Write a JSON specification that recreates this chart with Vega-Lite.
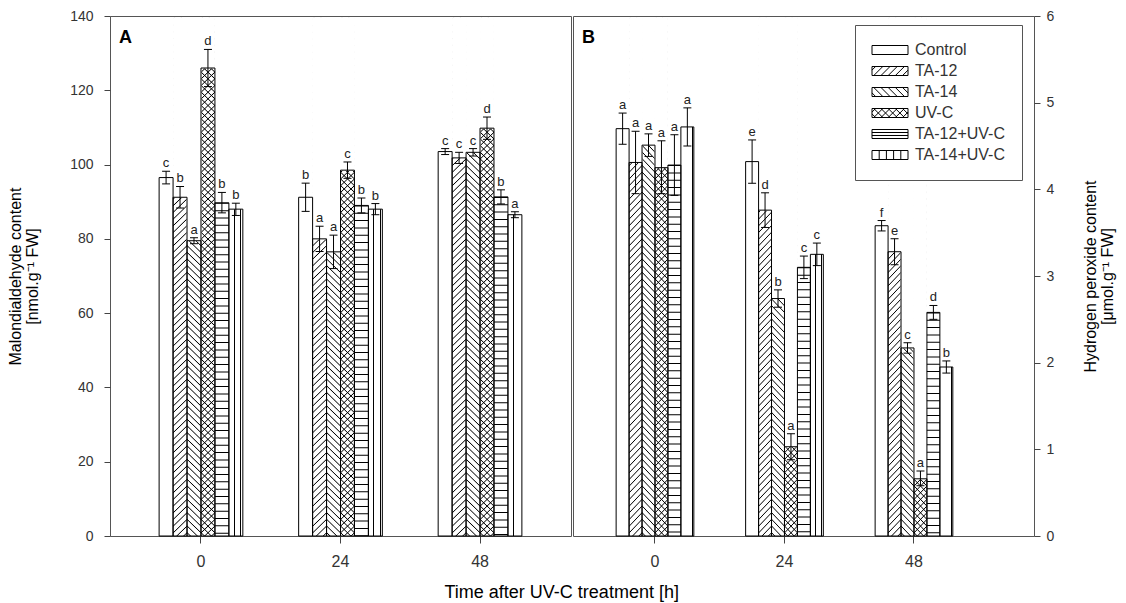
{
"$schema": "https://vega.github.io/schema/vega-lite/v6.json",
"background": "#ffffff",
"padding": {"left": 7, "top": 8, "right": 5, "bottom": 5},
"datasets": {
"mda": [
{"time":"0","trt":"Control","mean":96.5,"lo":94.8,"hi":98.2,"lab":"c"},
{"time":"0","trt":"TA-12","mean":91.2,"lo":88.3,"hi":94.1,"lab":"b"},
{"time":"0","trt":"TA-14","mean":79.5,"lo":78.7,"hi":80.3,"lab":"a"},
{"time":"0","trt":"UV-C","mean":126,"lo":121,"hi":131,"lab":"d"},
{"time":"0","trt":"TA-12+UV-C","mean":89.7,"lo":87,"hi":92.5,"lab":"b"},
{"time":"0","trt":"TA-14+UV-C","mean":88,"lo":86.3,"hi":89.6,"lab":"b"},
{"time":"24","trt":"Control","mean":91.2,"lo":87.4,"hi":95,"lab":"b"},
{"time":"24","trt":"TA-12","mean":80,"lo":76.6,"hi":83.4,"lab":"a"},
{"time":"24","trt":"TA-14","mean":76.5,"lo":72,"hi":81,"lab":"a"},
{"time":"24","trt":"UV-C","mean":98.5,"lo":96.3,"hi":100.7,"lab":"c"},
{"time":"24","trt":"TA-12+UV-C","mean":89,"lo":87,"hi":91,"lab":"b"},
{"time":"24","trt":"TA-14+UV-C","mean":88,"lo":86.5,"hi":89.5,"lab":"b"},
{"time":"48","trt":"Control","mean":103.5,"lo":102.7,"hi":104.3,"lab":"c"},
{"time":"48","trt":"TA-12","mean":101.8,"lo":100.3,"hi":103.3,"lab":"c"},
{"time":"48","trt":"TA-14","mean":103.3,"lo":102.3,"hi":104.3,"lab":"c"},
{"time":"48","trt":"UV-C","mean":109.8,"lo":106.8,"hi":112.8,"lab":"d"},
{"time":"48","trt":"TA-12+UV-C","mean":91.3,"lo":89.4,"hi":93.2,"lab":"b"},
{"time":"48","trt":"TA-14+UV-C","mean":86.5,"lo":85.7,"hi":87.3,"lab":"a"}
],
"h2o2": [
{"time":"0","trt":"Control","mean":4.70,"lo":4.52,"hi":4.88,"lab":"a"},
{"time":"0","trt":"TA-12","mean":4.31,"lo":3.95,"hi":4.67,"lab":"a"},
{"time":"0","trt":"TA-14","mean":4.51,"lo":4.38,"hi":4.64,"lab":"a"},
{"time":"0","trt":"UV-C","mean":4.25,"lo":3.95,"hi":4.56,"lab":"a"},
{"time":"0","trt":"TA-12+UV-C","mean":4.28,"lo":3.93,"hi":4.63,"lab":"a"},
{"time":"0","trt":"TA-14+UV-C","mean":4.72,"lo":4.50,"hi":4.94,"lab":"a"},
{"time":"24","trt":"Control","mean":4.32,"lo":4.07,"hi":4.57,"lab":"e"},
{"time":"24","trt":"TA-12","mean":3.76,"lo":3.56,"hi":3.96,"lab":"d"},
{"time":"24","trt":"TA-14","mean":2.74,"lo":2.64,"hi":2.84,"lab":"b"},
{"time":"24","trt":"UV-C","mean":1.03,"lo":0.88,"hi":1.18,"lab":"a"},
{"time":"24","trt":"TA-12+UV-C","mean":3.10,"lo":2.97,"hi":3.23,"lab":"c"},
{"time":"24","trt":"TA-14+UV-C","mean":3.25,"lo":3.12,"hi":3.38,"lab":"c"},
{"time":"48","trt":"Control","mean":3.58,"lo":3.52,"hi":3.64,"lab":"f"},
{"time":"48","trt":"TA-12","mean":3.28,"lo":3.13,"hi":3.43,"lab":"e"},
{"time":"48","trt":"TA-14","mean":2.17,"lo":2.11,"hi":2.23,"lab":"c"},
{"time":"48","trt":"UV-C","mean":0.66,"lo":0.58,"hi":0.75,"lab":"a"},
{"time":"48","trt":"TA-12+UV-C","mean":2.58,"lo":2.50,"hi":2.66,"lab":"d"},
{"time":"48","trt":"TA-14+UV-C","mean":1.95,"lo":1.88,"hi":2.02,"lab":"b"}
]
},
"title": {"text": "Time after UV-C treatment [h]", "orient": "bottom", "anchor": "middle", "fontSize": 18, "fontWeight": "normal", "color": "#000", "offset": 14},
"spacing": 0,
"resolve": {"scale": {"x": "independent", "y": "independent", "xOffset": "independent", "stroke": "independent", "shape": "independent"}},
"hconcat": [
{
"width": 461, "height": 520,
"data": {"name": "mda"},
"title": {"text": "A", "anchor": "start", "frame": "group", "fontSize": 18, "fontWeight": "bold", "color": "#000", "baseline": "top", "offset": 0, "dx": 9, "dy": 38},
"encoding": {
"x": {"field": "time", "type": "nominal", "sort": ["0","24","48"], "scale": {"paddingInner": 0.4, "paddingOuter": 0.352}, "axis": {"title": null, "labelAngle": 0, "tickSize": 7, "labelPadding": 10, "labelFontSize": 16}},
"xOffset": {"field": "trt", "type": "nominal", "sort": ["Control","TA-12","TA-14","UV-C","TA-12+UV-C","TA-14+UV-C"], "scale": {"paddingInner": 0, "paddingOuter": 0}}
},
"layer": [
{"transform": [{"filter": {"field": "trt", "oneOf": ["TA-12","UV-C"]}}], "mark": {"type": "bar", "style": "hatchF"}, "encoding": {"y": {"datum": 0, "type": "quantitative"}, "y2": {"datum": 139.5}}},
{"transform": [{"filter": {"field": "trt", "oneOf": ["TA-14","UV-C"]}}], "mark": {"type": "bar", "style": "hatchB"}, "encoding": {"y": {"datum": 0, "type": "quantitative"}, "y2": {"datum": 139.5}}},
{"transform": [{"filter": {"field": "trt", "oneOf": ["TA-12","TA-14","UV-C"]}}], "mark": {"type": "bar", "fill": "#ffffff", "stroke": "#ffffff", "strokeWidth": 1}, "encoding": {"y": {"field": "mean", "type": "quantitative"}, "y2": {"datum": 139.5}}},
{"transform": [{"filter": {"field": "trt", "equal": "TA-12+UV-C"}}], "mark": {"type": "rule", "strokeWidth": 14, "strokeDash": [1, 6.33], "strokeCap": "butt", "color": "#000"}, "encoding": {"y": {"field": "mean", "type": "quantitative"}, "y2": {"datum": 0}}},
{"transform": [{"filter": {"field": "trt", "equal": "TA-14+UV-C"}}], "mark": {"type": "bar", "style": "hatchV"}, "encoding": {"y": {"field": "mean", "type": "quantitative", "stack": null}}},
{"mark": {"type": "bar", "fill": "transparent", "stroke": "#000", "strokeWidth": 1}, "encoding": {"y": {"field": "mean", "type": "quantitative", "stack": null, "scale": {"domain": [0, 140], "nice": false}, "axis": {"orient": "left", "values": [0,20,40,60,80,100,120,140], "format": "d", "tickSize": 6, "labelPadding": 11, "title": ["Malondialdehyde content", "[nmol.g⁻¹ FW]"], "titlePadding": 29, "titleLineHeight": 17, "titleFontSize": 16}}}},
{"mark": {"type": "rule", "color": "#000", "strokeWidth": 1}, "encoding": {"y": {"field": "lo", "type": "quantitative"}, "y2": {"field": "hi"}}},
{"mark": {"type": "tick", "size": 8, "thickness": 1, "color": "#000", "opacity": 1}, "encoding": {"y": {"field": "lo", "type": "quantitative"}}},
{"mark": {"type": "tick", "size": 8, "thickness": 1, "color": "#000", "opacity": 1}, "encoding": {"y": {"field": "hi", "type": "quantitative"}}},
{"mark": {"type": "text", "dy": -4, "baseline": "alphabetic", "fontSize": 13, "color": "#222"}, "encoding": {"y": {"field": "hi", "type": "quantitative"}, "text": {"field": "lab", "type": "nominal"}}}
]
},
{
"width": 461, "height": 520,
"data": {"name": "h2o2"},
"title": {"text": "B", "anchor": "start", "frame": "group", "fontSize": 18, "fontWeight": "bold", "color": "#000", "baseline": "top", "offset": 0, "dx": 9, "dy": 38},
"encoding": {
"x": {"field": "time", "type": "nominal", "sort": ["0","24","48"], "scale": {"paddingInner": 0.4, "paddingOuter": 0.48, "align": 0.347}, "axis": {"title": null, "labelAngle": 0, "tickSize": 7, "labelPadding": 10, "labelFontSize": 16}},
"xOffset": {"field": "trt", "type": "nominal", "sort": ["Control","TA-12","TA-14","UV-C","TA-12+UV-C","TA-14+UV-C"], "scale": {"paddingInner": 0, "paddingOuter": 0}}
},
"layer": [
{"transform": [{"filter": {"field": "trt", "oneOf": ["TA-12","UV-C"]}}], "mark": {"type": "bar", "style": "hatchF"}, "encoding": {"y": {"datum": 0, "type": "quantitative"}, "y2": {"datum": 5.98}}},
{"transform": [{"filter": {"field": "trt", "oneOf": ["TA-14","UV-C"]}}], "mark": {"type": "bar", "style": "hatchB"}, "encoding": {"y": {"datum": 0, "type": "quantitative"}, "y2": {"datum": 5.98}}},
{"transform": [{"filter": {"field": "trt", "oneOf": ["TA-12","TA-14","UV-C"]}}], "mark": {"type": "bar", "fill": "#ffffff", "stroke": "#ffffff", "strokeWidth": 1}, "encoding": {"y": {"field": "mean", "type": "quantitative"}, "y2": {"datum": 5.98}}},
{"transform": [{"filter": {"field": "trt", "equal": "TA-12+UV-C"}}], "mark": {"type": "rule", "strokeWidth": 13, "strokeDash": [1, 6.33], "strokeCap": "butt", "color": "#000"}, "encoding": {"y": {"field": "mean", "type": "quantitative"}, "y2": {"datum": 0}}},
{"transform": [{"filter": {"field": "trt", "equal": "TA-14+UV-C"}}], "mark": {"type": "bar", "style": "hatchV"}, "encoding": {"y": {"field": "mean", "type": "quantitative", "stack": null}}},
{"mark": {"type": "bar", "fill": "transparent", "stroke": "#000", "strokeWidth": 1}, "encoding": {"y": {"field": "mean", "type": "quantitative", "stack": null, "scale": {"domain": [0, 6], "nice": false}, "axis": {"orient": "right", "values": [0,1,2,3,4,5,6], "format": "d", "tickSize": 6, "labelPadding": 6, "title": ["Hydrogen peroxide content", "[μmol.g⁻¹ FW]"], "titleAngle": 270, "titleBaseline": "top", "titlePadding": 12, "titleLineHeight": 17, "titleFontSize": 16}},
"stroke": {"field": "trt", "type": "nominal", "scale": {"domain": ["Control","TA-12","TA-14","UV-C","TA-12+UV-C","TA-14+UV-C"], "range": ["#000","#000","#000","#000","#000","#000"]},
"legend": {"title": null, "orient": "none", "legendX": 282, "legendY": 9, "padding": 17, "strokeColor": "#555", "fillColor": "#ffffff", "labelFontSize": 16, "labelColor": "#333", "labelFont": "Liberation Sans", "symbolType": "M-4,-1H4V1H-4Z", "symbolSize": 81, "symbolOffset": 10, "labelOffset": 17, "rowPadding": 5, "symbolStrokeWidth": 1, "symbolFillColor": "#ffffff", "symbolOpacity": 1}}}},
{"transform": [{"filter": "false"}], "mark": {"type": "point", "filled": true, "fill": "#ffffff", "stroke": "#000", "strokeWidth": 1}, "encoding": {"y": {"field": "mean", "type": "quantitative"},
"shape": {"field": "trt", "type": "nominal", "scale": {"domain": ["Control","TA-12","TA-14","UV-C","TA-12+UV-C","TA-14+UV-C"], "range": [
"M-4,-1H4V1H-4Z",
"M-4,-1H4V1H-4Z M-4,-0.2L-3.2,-1 M-3.6,1L-1.6,-1 M-2,1L0,-1 M-0.4,1L1.6,-1 M1.2,1L3.2,-1 M2.8,1L4,-0.2",
"M-4,-1H4V1H-4Z M-4,0.2L-3.2,1 M-3.6,-1L-1.6,1 M-2,-1L0,1 M-0.4,-1L1.6,1 M1.2,-1L3.2,1 M2.8,-1L4,0.2",
"M-4,-1H4V1H-4Z M-4,-0.2L-3.2,-1 M-3.6,1L-1.6,-1 M-2,1L0,-1 M-0.4,1L1.6,-1 M1.2,1L3.2,-1 M2.8,1L4,-0.2 M-4,0.2L-3.2,1 M-3.6,-1L-1.6,1 M-2,-1L0,1 M-0.4,-1L1.6,1 M1.2,-1L3.2,1 M2.8,-1L4,0.2",
"M-4,-1H4V1H-4Z M-4,-0.33H4 M-4,0.33H4",
"M-4,-1H4V1H-4Z M-2.4,-1V1 M-0.8,-1V1 M0.8,-1V1 M2.4,-1V1"
]},
"legend": {"title": null, "orient": "none", "legendX": 282, "legendY": 9, "padding": 17, "strokeColor": "#555", "fillColor": "#ffffff", "labelFontSize": 16, "labelColor": "#333", "labelFont": "Liberation Sans", "symbolSize": 81, "symbolOffset": 10, "labelOffset": 17, "rowPadding": 5, "symbolStrokeWidth": 1, "symbolFillColor": "#ffffff", "symbolOpacity": 1}}}},
{"mark": {"type": "rule", "color": "#000", "strokeWidth": 1}, "encoding": {"y": {"field": "lo", "type": "quantitative"}, "y2": {"field": "hi"}}},
{"mark": {"type": "tick", "size": 8, "thickness": 1, "color": "#000", "opacity": 1}, "encoding": {"y": {"field": "lo", "type": "quantitative"}}},
{"mark": {"type": "tick", "size": 8, "thickness": 1, "color": "#000", "opacity": 1}, "encoding": {"y": {"field": "hi", "type": "quantitative"}}},
{"mark": {"type": "text", "dy": -4, "baseline": "alphabetic", "fontSize": 13, "color": "#222"}, "encoding": {"y": {"field": "hi", "type": "quantitative"}, "text": {"field": "lab", "type": "nominal"}}}
]
}
],
"config": {
"font": "Liberation Sans",
"view": {"stroke": "#555", "strokeWidth": 1},
"axis": {"domain": false, "grid": false, "tickColor": "#444", "labelColor": "#333", "labelFontSize": 14, "titleFontWeight": "normal", "titleColor": "#000", "labelFont": "Liberation Sans", "titleFont": "Liberation Sans"},
"style": {
"hatchV": {"color": {"gradient": "linear", "x1": 0, "y1": 0, "x2": 1, "y2": 0, "stops": [{"offset":0,"color":"transparent"},{"offset":0.36,"color":"transparent"},{"offset":0.36,"color":"#000"},{"offset":0.43,"color":"#000"},{"offset":0.43,"color":"transparent"},{"offset":0.83,"color":"transparent"},{"offset":0.83,"color":"#000"},{"offset":0.9,"color":"#000"},{"offset":0.9,"color":"transparent"},{"offset":1,"color":"transparent"}]}},
"hatchF": {"color": {"gradient": "linear", "x1": 0, "y1": 0, "x2": 0.027, "y2": 1.03, "stops": [
{"offset":0,"color":"transparent"},{"offset":0.002,"color":"#000"},{"offset":0.004,"color":"transparent"},
{"offset":0.0125,"color":"transparent"},{"offset":0.0145,"color":"#000"},{"offset":0.0165,"color":"transparent"},
{"offset":0.025,"color":"transparent"},{"offset":0.027,"color":"#000"},{"offset":0.029,"color":"transparent"},
{"offset":0.0375,"color":"transparent"},{"offset":0.0395,"color":"#000"},{"offset":0.0415,"color":"transparent"},
{"offset":0.05,"color":"transparent"},{"offset":0.052,"color":"#000"},{"offset":0.054,"color":"transparent"},
{"offset":0.0625,"color":"transparent"},{"offset":0.0645,"color":"#000"},{"offset":0.0665,"color":"transparent"},
{"offset":0.075,"color":"transparent"},{"offset":0.077,"color":"#000"},{"offset":0.079,"color":"transparent"},
{"offset":0.0875,"color":"transparent"},{"offset":0.0895,"color":"#000"},{"offset":0.0915,"color":"transparent"},
{"offset":0.1,"color":"transparent"},{"offset":0.102,"color":"#000"},{"offset":0.104,"color":"transparent"},
{"offset":0.1125,"color":"transparent"},{"offset":0.1145,"color":"#000"},{"offset":0.1165,"color":"transparent"},
{"offset":0.125,"color":"transparent"},{"offset":0.127,"color":"#000"},{"offset":0.129,"color":"transparent"},
{"offset":0.1375,"color":"transparent"},{"offset":0.1395,"color":"#000"},{"offset":0.1415,"color":"transparent"},
{"offset":0.15,"color":"transparent"},{"offset":0.152,"color":"#000"},{"offset":0.154,"color":"transparent"},
{"offset":0.1625,"color":"transparent"},{"offset":0.1645,"color":"#000"},{"offset":0.1665,"color":"transparent"},
{"offset":0.175,"color":"transparent"},{"offset":0.177,"color":"#000"},{"offset":0.179,"color":"transparent"},
{"offset":0.1875,"color":"transparent"},{"offset":0.1895,"color":"#000"},{"offset":0.1915,"color":"transparent"},
{"offset":0.2,"color":"transparent"},{"offset":0.202,"color":"#000"},{"offset":0.204,"color":"transparent"},
{"offset":0.2125,"color":"transparent"},{"offset":0.2145,"color":"#000"},{"offset":0.2165,"color":"transparent"},
{"offset":0.225,"color":"transparent"},{"offset":0.227,"color":"#000"},{"offset":0.229,"color":"transparent"},
{"offset":0.2375,"color":"transparent"},{"offset":0.2395,"color":"#000"},{"offset":0.2415,"color":"transparent"},
{"offset":0.25,"color":"transparent"},{"offset":0.252,"color":"#000"},{"offset":0.254,"color":"transparent"},
{"offset":0.2625,"color":"transparent"},{"offset":0.2645,"color":"#000"},{"offset":0.2665,"color":"transparent"},
{"offset":0.275,"color":"transparent"},{"offset":0.277,"color":"#000"},{"offset":0.279,"color":"transparent"},
{"offset":0.2875,"color":"transparent"},{"offset":0.2895,"color":"#000"},{"offset":0.2915,"color":"transparent"},
{"offset":0.3,"color":"transparent"},{"offset":0.302,"color":"#000"},{"offset":0.304,"color":"transparent"},
{"offset":0.3125,"color":"transparent"},{"offset":0.3145,"color":"#000"},{"offset":0.3165,"color":"transparent"},
{"offset":0.325,"color":"transparent"},{"offset":0.327,"color":"#000"},{"offset":0.329,"color":"transparent"},
{"offset":0.3375,"color":"transparent"},{"offset":0.3395,"color":"#000"},{"offset":0.3415,"color":"transparent"},
{"offset":0.35,"color":"transparent"},{"offset":0.352,"color":"#000"},{"offset":0.354,"color":"transparent"},
{"offset":0.3625,"color":"transparent"},{"offset":0.3645,"color":"#000"},{"offset":0.3665,"color":"transparent"},
{"offset":0.375,"color":"transparent"},{"offset":0.377,"color":"#000"},{"offset":0.379,"color":"transparent"},
{"offset":0.3875,"color":"transparent"},{"offset":0.3895,"color":"#000"},{"offset":0.3915,"color":"transparent"},
{"offset":0.4,"color":"transparent"},{"offset":0.402,"color":"#000"},{"offset":0.404,"color":"transparent"},
{"offset":0.4125,"color":"transparent"},{"offset":0.4145,"color":"#000"},{"offset":0.4165,"color":"transparent"},
{"offset":0.425,"color":"transparent"},{"offset":0.427,"color":"#000"},{"offset":0.429,"color":"transparent"},
{"offset":0.4375,"color":"transparent"},{"offset":0.4395,"color":"#000"},{"offset":0.4415,"color":"transparent"},
{"offset":0.45,"color":"transparent"},{"offset":0.452,"color":"#000"},{"offset":0.454,"color":"transparent"},
{"offset":0.4625,"color":"transparent"},{"offset":0.4645,"color":"#000"},{"offset":0.4665,"color":"transparent"},
{"offset":0.475,"color":"transparent"},{"offset":0.477,"color":"#000"},{"offset":0.479,"color":"transparent"},
{"offset":0.4875,"color":"transparent"},{"offset":0.4895,"color":"#000"},{"offset":0.4915,"color":"transparent"},
{"offset":0.5,"color":"transparent"},{"offset":0.502,"color":"#000"},{"offset":0.504,"color":"transparent"},
{"offset":0.5125,"color":"transparent"},{"offset":0.5145,"color":"#000"},{"offset":0.5165,"color":"transparent"},
{"offset":0.525,"color":"transparent"},{"offset":0.527,"color":"#000"},{"offset":0.529,"color":"transparent"},
{"offset":0.5375,"color":"transparent"},{"offset":0.5395,"color":"#000"},{"offset":0.5415,"color":"transparent"},
{"offset":0.55,"color":"transparent"},{"offset":0.552,"color":"#000"},{"offset":0.554,"color":"transparent"},
{"offset":0.5625,"color":"transparent"},{"offset":0.5645,"color":"#000"},{"offset":0.5665,"color":"transparent"},
{"offset":0.575,"color":"transparent"},{"offset":0.577,"color":"#000"},{"offset":0.579,"color":"transparent"},
{"offset":0.5875,"color":"transparent"},{"offset":0.5895,"color":"#000"},{"offset":0.5915,"color":"transparent"},
{"offset":0.6,"color":"transparent"},{"offset":0.602,"color":"#000"},{"offset":0.604,"color":"transparent"},
{"offset":0.6125,"color":"transparent"},{"offset":0.6145,"color":"#000"},{"offset":0.6165,"color":"transparent"},
{"offset":0.625,"color":"transparent"},{"offset":0.627,"color":"#000"},{"offset":0.629,"color":"transparent"},
{"offset":0.6375,"color":"transparent"},{"offset":0.6395,"color":"#000"},{"offset":0.6415,"color":"transparent"},
{"offset":0.65,"color":"transparent"},{"offset":0.652,"color":"#000"},{"offset":0.654,"color":"transparent"},
{"offset":0.6625,"color":"transparent"},{"offset":0.6645,"color":"#000"},{"offset":0.6665,"color":"transparent"},
{"offset":0.675,"color":"transparent"},{"offset":0.677,"color":"#000"},{"offset":0.679,"color":"transparent"},
{"offset":0.6875,"color":"transparent"},{"offset":0.6895,"color":"#000"},{"offset":0.6915,"color":"transparent"},
{"offset":0.7,"color":"transparent"},{"offset":0.702,"color":"#000"},{"offset":0.704,"color":"transparent"},
{"offset":0.7125,"color":"transparent"},{"offset":0.7145,"color":"#000"},{"offset":0.7165,"color":"transparent"},
{"offset":0.725,"color":"transparent"},{"offset":0.727,"color":"#000"},{"offset":0.729,"color":"transparent"},
{"offset":0.7375,"color":"transparent"},{"offset":0.7395,"color":"#000"},{"offset":0.7415,"color":"transparent"},
{"offset":0.75,"color":"transparent"},{"offset":0.752,"color":"#000"},{"offset":0.754,"color":"transparent"},
{"offset":0.7625,"color":"transparent"},{"offset":0.7645,"color":"#000"},{"offset":0.7665,"color":"transparent"},
{"offset":0.775,"color":"transparent"},{"offset":0.777,"color":"#000"},{"offset":0.779,"color":"transparent"},
{"offset":0.7875,"color":"transparent"},{"offset":0.7895,"color":"#000"},{"offset":0.7915,"color":"transparent"},
{"offset":0.8,"color":"transparent"},{"offset":0.802,"color":"#000"},{"offset":0.804,"color":"transparent"},
{"offset":0.8125,"color":"transparent"},{"offset":0.8145,"color":"#000"},{"offset":0.8165,"color":"transparent"},
{"offset":0.825,"color":"transparent"},{"offset":0.827,"color":"#000"},{"offset":0.829,"color":"transparent"},
{"offset":0.8375,"color":"transparent"},{"offset":0.8395,"color":"#000"},{"offset":0.8415,"color":"transparent"},
{"offset":0.85,"color":"transparent"},{"offset":0.852,"color":"#000"},{"offset":0.854,"color":"transparent"},
{"offset":0.8625,"color":"transparent"},{"offset":0.8645,"color":"#000"},{"offset":0.8665,"color":"transparent"},
{"offset":0.875,"color":"transparent"},{"offset":0.877,"color":"#000"},{"offset":0.879,"color":"transparent"},
{"offset":0.8875,"color":"transparent"},{"offset":0.8895,"color":"#000"},{"offset":0.8915,"color":"transparent"},
{"offset":0.9,"color":"transparent"},{"offset":0.902,"color":"#000"},{"offset":0.904,"color":"transparent"},
{"offset":0.9125,"color":"transparent"},{"offset":0.9145,"color":"#000"},{"offset":0.9165,"color":"transparent"},
{"offset":0.925,"color":"transparent"},{"offset":0.927,"color":"#000"},{"offset":0.929,"color":"transparent"},
{"offset":0.9375,"color":"transparent"},{"offset":0.9395,"color":"#000"},{"offset":0.9415,"color":"transparent"},
{"offset":0.95,"color":"transparent"},{"offset":0.952,"color":"#000"},{"offset":0.954,"color":"transparent"},
{"offset":0.9625,"color":"transparent"},{"offset":0.9645,"color":"#000"},{"offset":0.9665,"color":"transparent"},
{"offset":0.975,"color":"transparent"},{"offset":0.977,"color":"#000"},{"offset":0.979,"color":"transparent"},
{"offset":0.9875,"color":"transparent"},{"offset":0.9895,"color":"#000"},{"offset":0.9915,"color":"transparent"}
]}},
"hatchB": {"color": {"gradient": "linear", "x1": 0.027, "y1": 0, "x2": 0, "y2": 1.03, "stops": [
{"offset":0,"color":"transparent"},{"offset":0.002,"color":"#000"},{"offset":0.004,"color":"transparent"},
{"offset":0.0125,"color":"transparent"},{"offset":0.0145,"color":"#000"},{"offset":0.0165,"color":"transparent"},
{"offset":0.025,"color":"transparent"},{"offset":0.027,"color":"#000"},{"offset":0.029,"color":"transparent"},
{"offset":0.0375,"color":"transparent"},{"offset":0.0395,"color":"#000"},{"offset":0.0415,"color":"transparent"},
{"offset":0.05,"color":"transparent"},{"offset":0.052,"color":"#000"},{"offset":0.054,"color":"transparent"},
{"offset":0.0625,"color":"transparent"},{"offset":0.0645,"color":"#000"},{"offset":0.0665,"color":"transparent"},
{"offset":0.075,"color":"transparent"},{"offset":0.077,"color":"#000"},{"offset":0.079,"color":"transparent"},
{"offset":0.0875,"color":"transparent"},{"offset":0.0895,"color":"#000"},{"offset":0.0915,"color":"transparent"},
{"offset":0.1,"color":"transparent"},{"offset":0.102,"color":"#000"},{"offset":0.104,"color":"transparent"},
{"offset":0.1125,"color":"transparent"},{"offset":0.1145,"color":"#000"},{"offset":0.1165,"color":"transparent"},
{"offset":0.125,"color":"transparent"},{"offset":0.127,"color":"#000"},{"offset":0.129,"color":"transparent"},
{"offset":0.1375,"color":"transparent"},{"offset":0.1395,"color":"#000"},{"offset":0.1415,"color":"transparent"},
{"offset":0.15,"color":"transparent"},{"offset":0.152,"color":"#000"},{"offset":0.154,"color":"transparent"},
{"offset":0.1625,"color":"transparent"},{"offset":0.1645,"color":"#000"},{"offset":0.1665,"color":"transparent"},
{"offset":0.175,"color":"transparent"},{"offset":0.177,"color":"#000"},{"offset":0.179,"color":"transparent"},
{"offset":0.1875,"color":"transparent"},{"offset":0.1895,"color":"#000"},{"offset":0.1915,"color":"transparent"},
{"offset":0.2,"color":"transparent"},{"offset":0.202,"color":"#000"},{"offset":0.204,"color":"transparent"},
{"offset":0.2125,"color":"transparent"},{"offset":0.2145,"color":"#000"},{"offset":0.2165,"color":"transparent"},
{"offset":0.225,"color":"transparent"},{"offset":0.227,"color":"#000"},{"offset":0.229,"color":"transparent"},
{"offset":0.2375,"color":"transparent"},{"offset":0.2395,"color":"#000"},{"offset":0.2415,"color":"transparent"},
{"offset":0.25,"color":"transparent"},{"offset":0.252,"color":"#000"},{"offset":0.254,"color":"transparent"},
{"offset":0.2625,"color":"transparent"},{"offset":0.2645,"color":"#000"},{"offset":0.2665,"color":"transparent"},
{"offset":0.275,"color":"transparent"},{"offset":0.277,"color":"#000"},{"offset":0.279,"color":"transparent"},
{"offset":0.2875,"color":"transparent"},{"offset":0.2895,"color":"#000"},{"offset":0.2915,"color":"transparent"},
{"offset":0.3,"color":"transparent"},{"offset":0.302,"color":"#000"},{"offset":0.304,"color":"transparent"},
{"offset":0.3125,"color":"transparent"},{"offset":0.3145,"color":"#000"},{"offset":0.3165,"color":"transparent"},
{"offset":0.325,"color":"transparent"},{"offset":0.327,"color":"#000"},{"offset":0.329,"color":"transparent"},
{"offset":0.3375,"color":"transparent"},{"offset":0.3395,"color":"#000"},{"offset":0.3415,"color":"transparent"},
{"offset":0.35,"color":"transparent"},{"offset":0.352,"color":"#000"},{"offset":0.354,"color":"transparent"},
{"offset":0.3625,"color":"transparent"},{"offset":0.3645,"color":"#000"},{"offset":0.3665,"color":"transparent"},
{"offset":0.375,"color":"transparent"},{"offset":0.377,"color":"#000"},{"offset":0.379,"color":"transparent"},
{"offset":0.3875,"color":"transparent"},{"offset":0.3895,"color":"#000"},{"offset":0.3915,"color":"transparent"},
{"offset":0.4,"color":"transparent"},{"offset":0.402,"color":"#000"},{"offset":0.404,"color":"transparent"},
{"offset":0.4125,"color":"transparent"},{"offset":0.4145,"color":"#000"},{"offset":0.4165,"color":"transparent"},
{"offset":0.425,"color":"transparent"},{"offset":0.427,"color":"#000"},{"offset":0.429,"color":"transparent"},
{"offset":0.4375,"color":"transparent"},{"offset":0.4395,"color":"#000"},{"offset":0.4415,"color":"transparent"},
{"offset":0.45,"color":"transparent"},{"offset":0.452,"color":"#000"},{"offset":0.454,"color":"transparent"},
{"offset":0.4625,"color":"transparent"},{"offset":0.4645,"color":"#000"},{"offset":0.4665,"color":"transparent"},
{"offset":0.475,"color":"transparent"},{"offset":0.477,"color":"#000"},{"offset":0.479,"color":"transparent"},
{"offset":0.4875,"color":"transparent"},{"offset":0.4895,"color":"#000"},{"offset":0.4915,"color":"transparent"},
{"offset":0.5,"color":"transparent"},{"offset":0.502,"color":"#000"},{"offset":0.504,"color":"transparent"},
{"offset":0.5125,"color":"transparent"},{"offset":0.5145,"color":"#000"},{"offset":0.5165,"color":"transparent"},
{"offset":0.525,"color":"transparent"},{"offset":0.527,"color":"#000"},{"offset":0.529,"color":"transparent"},
{"offset":0.5375,"color":"transparent"},{"offset":0.5395,"color":"#000"},{"offset":0.5415,"color":"transparent"},
{"offset":0.55,"color":"transparent"},{"offset":0.552,"color":"#000"},{"offset":0.554,"color":"transparent"},
{"offset":0.5625,"color":"transparent"},{"offset":0.5645,"color":"#000"},{"offset":0.5665,"color":"transparent"},
{"offset":0.575,"color":"transparent"},{"offset":0.577,"color":"#000"},{"offset":0.579,"color":"transparent"},
{"offset":0.5875,"color":"transparent"},{"offset":0.5895,"color":"#000"},{"offset":0.5915,"color":"transparent"},
{"offset":0.6,"color":"transparent"},{"offset":0.602,"color":"#000"},{"offset":0.604,"color":"transparent"},
{"offset":0.6125,"color":"transparent"},{"offset":0.6145,"color":"#000"},{"offset":0.6165,"color":"transparent"},
{"offset":0.625,"color":"transparent"},{"offset":0.627,"color":"#000"},{"offset":0.629,"color":"transparent"},
{"offset":0.6375,"color":"transparent"},{"offset":0.6395,"color":"#000"},{"offset":0.6415,"color":"transparent"},
{"offset":0.65,"color":"transparent"},{"offset":0.652,"color":"#000"},{"offset":0.654,"color":"transparent"},
{"offset":0.6625,"color":"transparent"},{"offset":0.6645,"color":"#000"},{"offset":0.6665,"color":"transparent"},
{"offset":0.675,"color":"transparent"},{"offset":0.677,"color":"#000"},{"offset":0.679,"color":"transparent"},
{"offset":0.6875,"color":"transparent"},{"offset":0.6895,"color":"#000"},{"offset":0.6915,"color":"transparent"},
{"offset":0.7,"color":"transparent"},{"offset":0.702,"color":"#000"},{"offset":0.704,"color":"transparent"},
{"offset":0.7125,"color":"transparent"},{"offset":0.7145,"color":"#000"},{"offset":0.7165,"color":"transparent"},
{"offset":0.725,"color":"transparent"},{"offset":0.727,"color":"#000"},{"offset":0.729,"color":"transparent"},
{"offset":0.7375,"color":"transparent"},{"offset":0.7395,"color":"#000"},{"offset":0.7415,"color":"transparent"},
{"offset":0.75,"color":"transparent"},{"offset":0.752,"color":"#000"},{"offset":0.754,"color":"transparent"},
{"offset":0.7625,"color":"transparent"},{"offset":0.7645,"color":"#000"},{"offset":0.7665,"color":"transparent"},
{"offset":0.775,"color":"transparent"},{"offset":0.777,"color":"#000"},{"offset":0.779,"color":"transparent"},
{"offset":0.7875,"color":"transparent"},{"offset":0.7895,"color":"#000"},{"offset":0.7915,"color":"transparent"},
{"offset":0.8,"color":"transparent"},{"offset":0.802,"color":"#000"},{"offset":0.804,"color":"transparent"},
{"offset":0.8125,"color":"transparent"},{"offset":0.8145,"color":"#000"},{"offset":0.8165,"color":"transparent"},
{"offset":0.825,"color":"transparent"},{"offset":0.827,"color":"#000"},{"offset":0.829,"color":"transparent"},
{"offset":0.8375,"color":"transparent"},{"offset":0.8395,"color":"#000"},{"offset":0.8415,"color":"transparent"},
{"offset":0.85,"color":"transparent"},{"offset":0.852,"color":"#000"},{"offset":0.854,"color":"transparent"},
{"offset":0.8625,"color":"transparent"},{"offset":0.8645,"color":"#000"},{"offset":0.8665,"color":"transparent"},
{"offset":0.875,"color":"transparent"},{"offset":0.877,"color":"#000"},{"offset":0.879,"color":"transparent"},
{"offset":0.8875,"color":"transparent"},{"offset":0.8895,"color":"#000"},{"offset":0.8915,"color":"transparent"},
{"offset":0.9,"color":"transparent"},{"offset":0.902,"color":"#000"},{"offset":0.904,"color":"transparent"},
{"offset":0.9125,"color":"transparent"},{"offset":0.9145,"color":"#000"},{"offset":0.9165,"color":"transparent"},
{"offset":0.925,"color":"transparent"},{"offset":0.927,"color":"#000"},{"offset":0.929,"color":"transparent"},
{"offset":0.9375,"color":"transparent"},{"offset":0.9395,"color":"#000"},{"offset":0.9415,"color":"transparent"},
{"offset":0.95,"color":"transparent"},{"offset":0.952,"color":"#000"},{"offset":0.954,"color":"transparent"},
{"offset":0.9625,"color":"transparent"},{"offset":0.9645,"color":"#000"},{"offset":0.9665,"color":"transparent"},
{"offset":0.975,"color":"transparent"},{"offset":0.977,"color":"#000"},{"offset":0.979,"color":"transparent"},
{"offset":0.9875,"color":"transparent"},{"offset":0.9895,"color":"#000"},{"offset":0.9915,"color":"transparent"}
]}}
}
}
}
